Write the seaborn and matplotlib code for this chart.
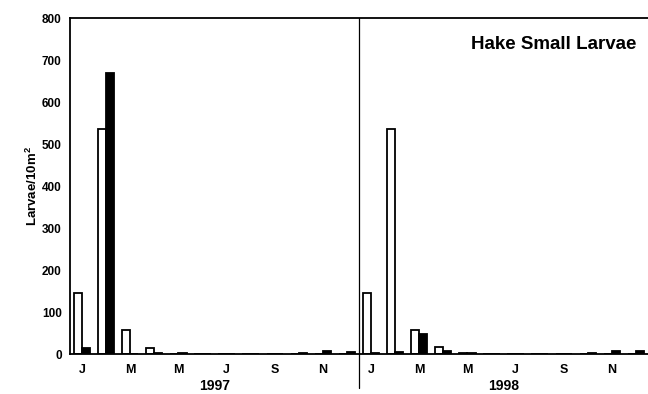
import numpy as np
import pandas as pd
import matplotlib
matplotlib.use("Agg")
import matplotlib.pyplot as plt
import seaborn as sns

months = ["Jan", "Feb", "Mar", "Apr", "May", "Jun", "Jul", "Aug", "Sep", "Oct", "Nov", "Dec"]
years = ["1997", "1998"]
open_1997 = [145, 537, 57, 15, 1, 0, 0, 0, 0, 0, 0, 0]
filled_1997 = [15, 670, 1, 3, 2, 1, 1, 1, 1, 3, 6, 5]
open_1998 = [145, 537, 57, 17, 2, 0, 0, 0, 0, 0, 0, 0]
filled_1998 = [3, 5, 47, 8, 2, 1, 1, 1, 1, 3, 7, 7]
tick_labels = ["J", "M", "M", "J", "S", "N"]
title = "Hake Small Larvae"
ylabel = "Larvae/10m$^2$"

sns.set_theme(style="white")
plt.rcParams["font.family"] = ["Liberation Sans", "DejaVu Sans"]
plt.rcParams["mathtext.fontset"] = "custom"
plt.rcParams["mathtext.rm"] = "Liberation Sans:bold"
plt.rcParams["mathtext.it"] = "Liberation Sans:bold"
plt.rcParams["mathtext.bf"] = "Liberation Sans:bold"
for k in ["text.color", "axes.labelcolor", "xtick.color", "ytick.color", "axes.edgecolor"]:
    plt.rcParams[k] = "black"

rows = []
for y, ov, fv in [(years[0], open_1997, filled_1997), (years[1], open_1998, filled_1998)]:
    for m, o, f in zip(months, ov, fv):
        rows.append({"period": f"{m} {y}", "series": "open", "value": o})
        rows.append({"period": f"{m} {y}", "series": "filled", "value": f})
df = pd.DataFrame(rows)
order = [f"{m} {y}" for y in years for m in months]

fig = plt.figure(figsize=(6.48, 3.94), dpi=100)
ax = fig.add_axes([0.108, 0.1015, 0.892, 0.8525])
sns.barplot(data=df, x="period", y="value", hue="series", order=order,
            hue_order=["open", "filled"], palette={"open": "white", "filled": "black"},
            width=0.68, edgecolor="black", linewidth=1.3, ax=ax, legend=False,
            saturation=1)

ax.set_xlim(-0.5, 23.5)
ax.set_ylim(0, 800)
ax.set_yticks(range(0, 801, 100))
ax.tick_params(axis="y", direction="in", length=5, width=1, labelsize=8.5, pad=6)
for t in ax.get_yticklabels():
    t.set_fontweight("bold")

major = [0, 2, 4, 6, 8, 10, 12, 14, 16, 18, 20, 22]
ax.set_xticks(major)
ax.set_xticklabels(tick_labels * 2, fontsize=9, fontweight="bold")
ax.set_xticks(range(24), minor=True)
ax.tick_params(axis="x", which="both", direction="out", length=3, width=1, pad=4)

for s in ["left", "bottom", "top"]:
    ax.spines[s].set_visible(True)
    ax.spines[s].set_linewidth(1.3)
    ax.spines[s].set_color("black")
ax.spines["right"].set_visible(False)

ax.axvline(11.5, ymin=-0.1, ymax=1, color="black", linewidth=0.9, clip_on=False)

ax.set_xlabel("")
ax.set_ylabel(ylabel, fontsize=9.5, fontweight="bold", labelpad=1)
ax.text(5.5, -0.094, years[0], transform=ax.get_xaxis_transform(), ha="center", va="center",
        fontsize=10, fontweight="bold")
ax.text(17.5, -0.094, years[1], transform=ax.get_xaxis_transform(), ha="center", va="center",
        fontsize=10, fontweight="bold")
ax.text(0.98, 0.92, title, transform=ax.transAxes, ha="right", va="center",
        fontsize=13.5, fontweight="bold")

fig.savefig("out.png", dpi=100)
